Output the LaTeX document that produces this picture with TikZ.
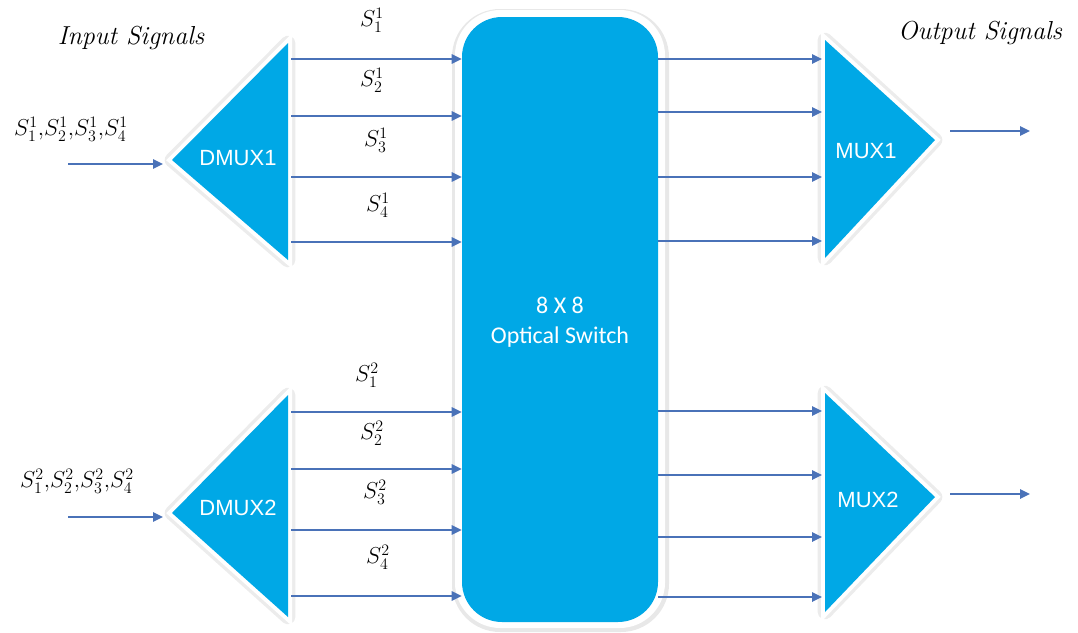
\documentclass[tikz,border=0pt]{standalone}
\usepackage{fontspec}
\setsansfont{Liberation Sans}
\newfontfamily\calfont{Carlito}
\usetikzlibrary{arrows.meta}
\definecolor{boxblue}{RGB}{0,168,230}
\definecolor{arrblue}{RGB}{74,114,184}
\tikzset{
  sig/.style={draw=arrblue, line width=1.6pt, -{Triangle[length=7.5pt,width=7pt]}},
  shade1/.style={draw=black!30, line width=11pt, line join=round, opacity=0.25},
  rim/.style={draw=white, fill=white, line width=6pt, line join=miter},
  core/.style={fill=boxblue},
  blklabel/.style={text=white, font=\sffamily\fontsize{16.5}{18}\selectfont},
  siglabel/.style={font=\fontsize{18}{20}\selectfont, inner sep=0pt},
  title/.style={font=\itshape\fontsize{19.5}{22}\selectfont, inner sep=0pt},
}
\begin{document}
\begin{tikzpicture}[x=0.75pt,y=-0.75pt]
\useasboundingbox (0,0) rectangle (1078,632);
% switch
\fill[black!30, opacity=0.3, rounded corners=36] (452,9) rectangle (669,632);
\fill[white, rounded corners=34] (455,10) rectangle (665,628);
\node[core, rounded corners=30, minimum width=147pt, minimum height=453.75pt, inner sep=0pt] (sw) at (560,319.5) {};
\node[text=white, font=\calfont\fontsize{18}{22.5}\selectfont, align=center] (swt) at (560,322) {8 X 8\\Optical Switch};
% triangles
\foreach \p in {
  {(288,43) -- (288,260) -- (172,160) -- cycle},
  {(288,395) -- (288,617) -- (172,513) -- cycle},
  {(825,40) -- (825,258) -- (935,140) -- cycle},
  {(825,393) -- (825,612) -- (935,497) -- cycle}}{
  \path[shade1] \p;
  \path[rim] \p;
  \path[core] \p;
}
\node[blklabel] (d1) at (238,158) {DMUX1};
\node[blklabel] (d2) at (238,508) {DMUX2};
\node[blklabel] (m1) at (866,151) {MUX1};
\node[blklabel] (m2) at (868,500) {MUX2};
% named endpoints
\foreach \n/\y in {a1/59,a2/116,a3/177,a4/242,b1/412,b2/469,b3/530,b4/596}{
  \coordinate (\n s) at (291,\y);
  \coordinate (\n e) at (sw.west |- 0,\y);
}
\foreach \n/\y in {c1/59,c2/112,c3/177,c4/241,e1/411,e2/475,e3/537,e4/597}{
  \coordinate (\n s) at (sw.east |- 0,\y);
  \coordinate (\n e) at (822,\y);
}
\foreach \n in {a1,a2,a3,a4,b1,b2,b3,b4,c1,c2,c3,c4,e1,e2,e3,e4}{
  \draw[sig] (\n s) -- (\n e);
}
\coordinate (in1) at (68,164); \coordinate (in1e) at (163,164);
\coordinate (in2) at (68,517); \coordinate (in2e) at (163,517);
\coordinate (o1) at (950,131); \coordinate (o1e) at (1030,131);
\coordinate (o2) at (950,494); \coordinate (o2e) at (1030,494);
\draw[sig] (in1) -- (in1e);
\draw[sig] (in2) -- (in2e);
\draw[sig] (o1) -- (o1e);
\draw[sig] (o2) -- (o2e);
% labels
\node[title] (tin) at (131,38) {Input Signals};
\node[title] (tout) at (980,33) {Output Signals};
\node[siglabel] (l1) at (71,129) {$S_1^1{,}S_2^1{,}S_3^1{,}S_4^1$};
\node[siglabel] (l2) at (77,481) {$S_1^2{,}S_2^2{,}S_3^2{,}S_4^2$};
\node[siglabel] (s11) at (372,20) {$S_1^1$};
\node[siglabel] (s21) at (372,80) {$S_2^1$};
\node[siglabel] (s31) at (376,140) {$S_3^1$};
\node[siglabel] (s41) at (378,205) {$S_4^1$};
\node[siglabel] (s12) at (367,375) {$S_1^2$};
\node[siglabel] (s22) at (372,433) {$S_2^2$};
\node[siglabel] (s32) at (375,492) {$S_3^2$};
\node[siglabel] (s42) at (378,557) {$S_4^2$};
\end{tikzpicture}
\end{document}
